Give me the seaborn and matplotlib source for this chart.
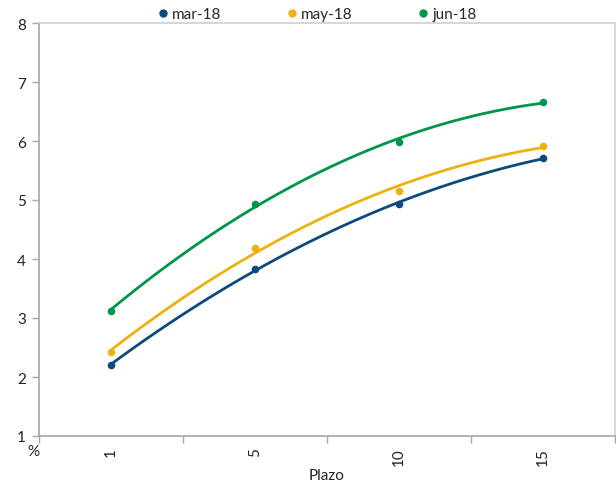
import numpy as np
import pandas as pd
import matplotlib
matplotlib.use("Agg")
import matplotlib.pyplot as plt
import seaborn as sns
from matplotlib.lines import Line2D

plazos = ["1", "5", "10", "15"]
series_names = ["mar-18", "may-18", "jun-18"]
mar18 = [2.20, 3.83, 4.93, 5.71]
may18 = [2.42, 4.19, 5.15, 5.92]
jun18 = [3.12, 4.93, 5.99, 6.66]
colors = ["#0B4A7D", "#EDB110", "#00954A"]
y_ticks = [1, 2, 3, 4, 5, 6, 7, 8]

sns.set_theme(style="white")
plt.rcParams["font.family"] = ["Lato", "DejaVu Sans"]

rows = []
for name, vals in zip(series_names, [mar18, may18, jun18]):
    for i, (p, v) in enumerate(zip(plazos, vals)):
        rows.append({"serie": name, "pos": i, "plazo": p, "valor": v})
df = pd.DataFrame(rows)

fig = plt.figure(figsize=(6.16, 4.85), dpi=100)
ax = fig.add_axes([38.5 / 616, 1 - 437 / 485, (615 - 38.5) / 616, (437 - 24) / 485])

for name, c in zip(series_names, colors):
    sub = df[df["serie"] == name]
    sns.regplot(data=sub, x="pos", y="valor", order=2, ci=None, ax=ax,
                color=c, scatter_kws={"s": 30, "linewidths": 0, "alpha": 1, "zorder": 3},
                line_kws={"lw": 2.0, "zorder": 2}, truncate=True)

ax.set_xlim(-0.5, 3.5)
ax.set_ylim(1, 8)
ax.set_yticks(y_ticks)
ax.set_yticklabels([str(t) for t in y_ticks], fontsize=11, color="#222222")
ax.set_xticks(range(len(plazos)))
ax.set_xticklabels(plazos, rotation=90, fontsize=11, color="#222222")
ax.set_xticks([-0.5, 0.5, 1.5, 2.5, 3.5], minor=True)
ax.tick_params(axis="x", which="major", length=0, pad=8)
ax.tick_params(axis="x", which="minor", length=5, width=1, color="#A6A6A6", direction="out", bottom=True)
ax.tick_params(axis="y", which="major", length=5, width=1, color="#A6A6A6", direction="out", left=True, pad=4)
ax.set_xlabel("Plazo", fontsize=11, color="#222222", labelpad=2)
ax.set_ylabel("")

ax.spines["left"].set_color("#A6A6A6")
ax.spines["bottom"].set_color("#A6A6A6")
ax.spines["top"].set_color("#D0D0D0")
ax.spines["right"].set_color("#D0D0D0")
for s in ax.spines.values():
    s.set_linewidth(1.2)
    s.set_visible(True)

fig.text(33 / 616, 1 - 452 / 485, "%", fontsize=11, color="#222222", ha="center", va="center")

handles = [Line2D([0], [0], marker="o", linestyle="", color=c, markersize=5) for c in colors]
fig.legend(handles, series_names, loc="center", bbox_to_anchor=(0.513, 1 - 15 / 485),
           ncol=3, frameon=False, fontsize=11, handletextpad=0.1, columnspacing=4.1,
           handlelength=1.0)

fig.savefig("out.png", dpi=100)
